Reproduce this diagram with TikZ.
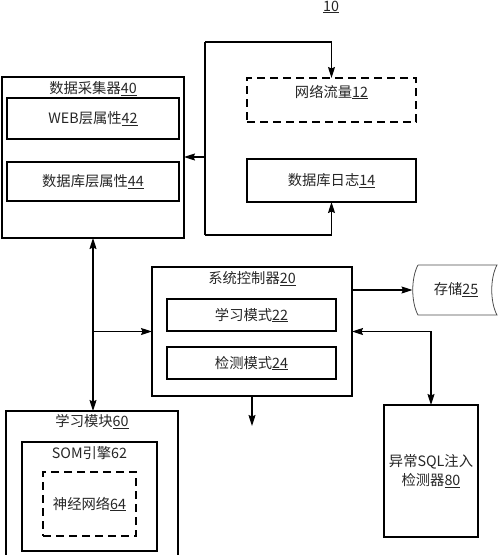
\documentclass[tikz,border=0pt]{standalone}
\usepackage{fontspec}
\setmainfont{Noto Sans CJK SC}
\usetikzlibrary{arrows.meta}
\begin{document}
\begin{tikzpicture}[x=1pt,y=-1pt,
  every node/.style={inner sep=0pt, outer sep=0pt, font=\fontsize{14.3pt}{17pt}\selectfont, text=black!85},
  box/.style={draw=black, line width=1.2pt},
  dbox/.style={draw=black, line width=1.2pt, dash pattern=on 8pt off 5pt},
  ln/.style={line width=1.2pt},
  arr/.style={ln, -{Stealth[length=11pt,width=7pt,inset=1.5pt]}},
  arrb/.style={ln, {Stealth[length=11pt,width=7pt,inset=1.5pt]}-{Stealth[length=11pt,width=7pt,inset=1.5pt]}},
  lbl/.style={anchor=center}]
\useasboundingbox (0,0) rectangle (500,555);
% title
\node[lbl] (t10) at (331,7) {\underline{10}};
% data collector 40
\node[box, minimum width=182pt, minimum height=161pt] (n40) at (93,157.5) {};
\node[lbl] (l40) at (93,89) {数据采集器\underline{40}};
\node[box, minimum width=172pt, minimum height=41pt] (n42) at (93,118.5) {WEB层属性\underline{42}};
\node[box, minimum width=172pt, minimum height=39pt] (n44) at (93,181.5) {数据库层属性\underline{44}};
% network traffic 12 and db log 14
\node[dbox, minimum width=169pt, minimum height=44pt] (n12) at (331.5,100) {};
\node[lbl] (l12) at (331.5,92) {网络流量\underline{12}};
\node[box, minimum width=169pt, minimum height=43pt] (n14) at (331.5,180.5) {数据库日志\underline{14}};
% loop
\coordinate (lt) at (205,42);
\coordinate (lb) at (205,235);
\coordinate (lm) at (205,157);
\draw[ln] (lt) -- (lb);
\draw[arr] (lt) -| (n12.north);
\draw[arr] (lb) -| (n14.south);
\draw[arr] (lm) -- (n40.east |- lm);
% system controller 20
\node[box, minimum width=200pt, minimum height=129pt] (n20) at (252,331.5) {};
\node[lbl] (l20) at (252,279) {系统控制器\underline{20}};
\node[box, minimum width=169pt, minimum height=32pt] (n22) at (251.5,315) {学习模式\underline{22}};
\node[box, minimum width=169pt, minimum height=32pt] (n24) at (251.5,363) {检测模式\underline{24}};
% storage 25
\node[lbl] (n25) at (456,290) {存储\underline{25}};
\coordinate (s25w) at (412.5,290);
\draw[line width=0.8pt, draw=black!70] (418,265) -- (497,265)
  .. controls (490,278) and (490,302) .. (497,315) -- (418,315)
  .. controls (411,302) and (411,278) .. (418,265);
\draw[arr] (n20.east |- s25w) -- (s25w);
\coordinate (o20) at (252,426);
\draw[arr] (n20.south) -- (o20);
% learning module 60
\node[minimum width=172pt, minimum height=145pt] (n60) at (92,483.5) {};
\draw[box] (n60.south west) -- (n60.north west) -- (n60.north east) -- (n60.south east);
\node[lbl] (l60) at (92,422) {学习模块\underline{60}};
\node[box, minimum width=135pt, minimum height=109pt] (n62) at (89.5,496.5) {};
\node[lbl] (l62) at (89.5,453) {SOM引擎62};
\node[dbox, minimum width=93pt, minimum height=64pt] (n64) at (89.5,504) {神经网络\underline{64}};
% detector 80
\node[box, minimum width=94pt, minimum height=132pt, align=center] (n80) at (431,471) {异常SQL注入\\[2pt]检测器\underline{80}};
% connectors
\coordinate (vb) at (n40.south |- n60.north);
\draw[arrb] (n40.south) -- (vb);
\coordinate (j1) at (n40.south |- n20.west);
\draw[arr] (j1) -- (n20.west);
\draw[arrb] (n20.east) -| (n80.north);
\end{tikzpicture}
\end{document}
